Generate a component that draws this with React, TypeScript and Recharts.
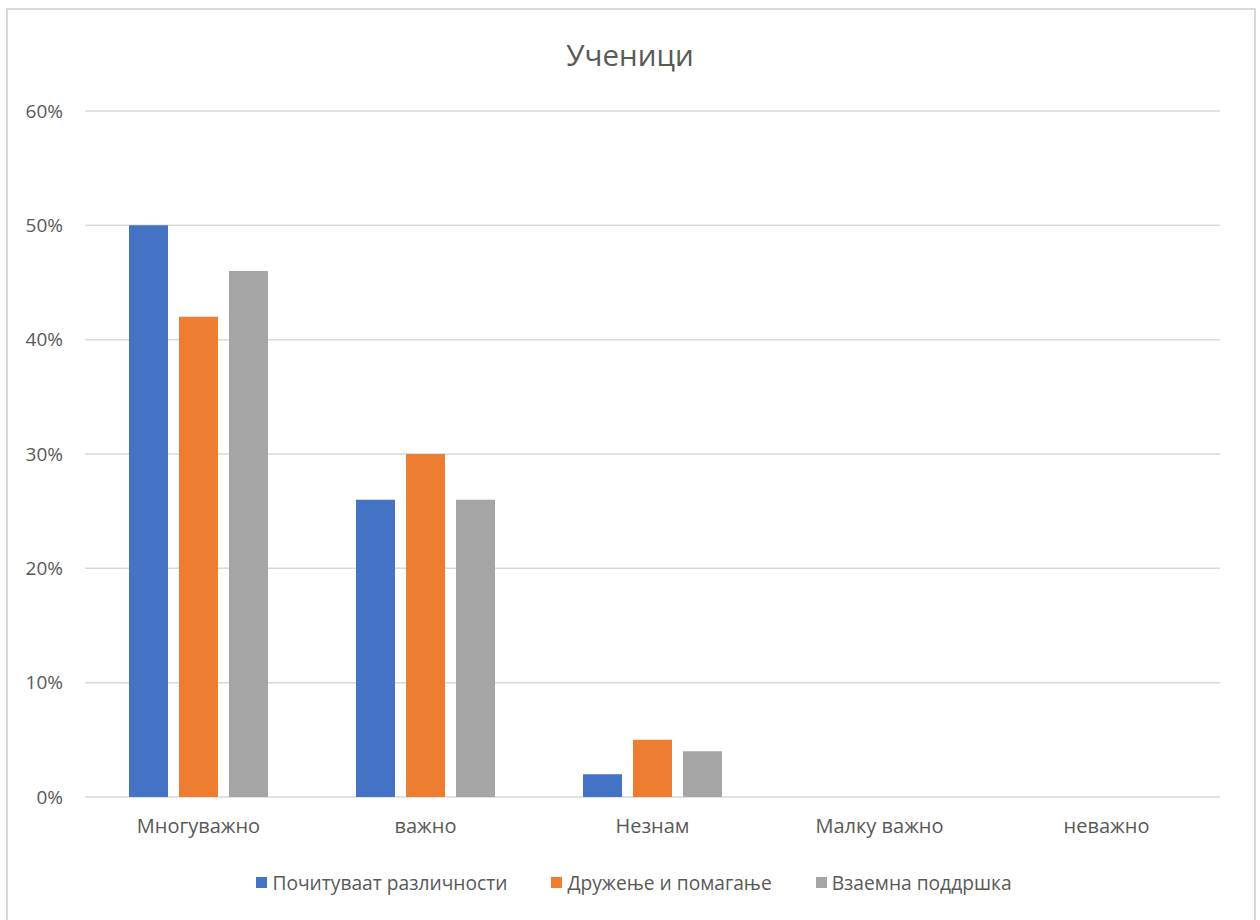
import { BarChart, Bar, XAxis, YAxis, CartesianGrid } from 'recharts'

const categories = ['Многуважно', 'важно', 'Незнам', 'Малку важно', 'неважно']
const respect = [50, 26, 2, 0, 0]
const friendship = [42, 30, 5, 0, 0]
const support = [46, 26, 4, 0, 0]
const yTicks = [0, 10, 20, 30, 40, 50, 60]

const series = [
  { key: 'respect', name: 'Почитуваат различности', color: '#4472C4' },
  { key: 'friendship', name: 'Дружење и помагање', color: '#ED7D31' },
  { key: 'support', name: 'Взаемна поддршка', color: '#A5A5A5' },
]

const data = categories.map((c, i) => ({
  label: c,
  respect: respect[i],
  friendship: friendship[i],
  support: support[i],
}))

const font = '"Open Sans", "Liberation Sans", sans-serif'
const textColor = '#595959'

export default function App() {
  return (
    <div style={{ position: 'absolute', left: 0, top: 0, width: 1260, height: 920, background: '#fff', fontFamily: font, overflow: 'hidden' }}>
      <div style={{ position: 'absolute', left: 6, top: 8, width: 1246, height: 940, border: '2px solid #d9d9d9' }} />
      <div style={{ position: 'absolute', left: 0, top: 34, width: 1260, textAlign: 'center', fontSize: 29.5, color: textColor }}>
        Ученици
      </div>
      <div style={{ position: 'absolute', left: 0, top: 0 }}>
        <BarChart width={1260} height={920} data={data} margin={{ top: 111, right: 40, bottom: 83, left: 0 }} barSize={39} barGap={11}>
          <CartesianGrid horizontal vertical={false} stroke="#d9d9d9" strokeWidth={1.5} />
          <XAxis dataKey="label" axisLine={false} tickLine={false} tickSize={0} tickMargin={22} height={40}
            tick={{ fill: textColor, fontSize: 20, fontFamily: font }} />
          <YAxis domain={[0, 60]} ticks={yTicks} axisLine={false} tickLine={false} tickSize={0} tickMargin={22} width={85}
            tickFormatter={v => `${v}%`} tick={{ fill: textColor, fontSize: 19, fontFamily: font }} />
          {series.map(s => (
            <Bar key={s.key} dataKey={s.key} name={s.name} fill={s.color} isAnimationActive={false} />
          ))}
        </BarChart>
      </div>
      <div style={{ position: 'absolute', left: 0, top: 869, width: 1260, display: 'flex', justifyContent: 'center', gap: 44, fontSize: 19.2, color: textColor, paddingLeft: 4 }}>
        {series.map(s => (
          <div key={s.key} style={{ display: 'flex', alignItems: 'center' }}>
            <span style={{ display: 'inline-block', width: 11, height: 11, background: s.color, marginRight: 5 }} />
            <span>{s.name}</span>
          </div>
        ))}
      </div>
    </div>
  )
}
